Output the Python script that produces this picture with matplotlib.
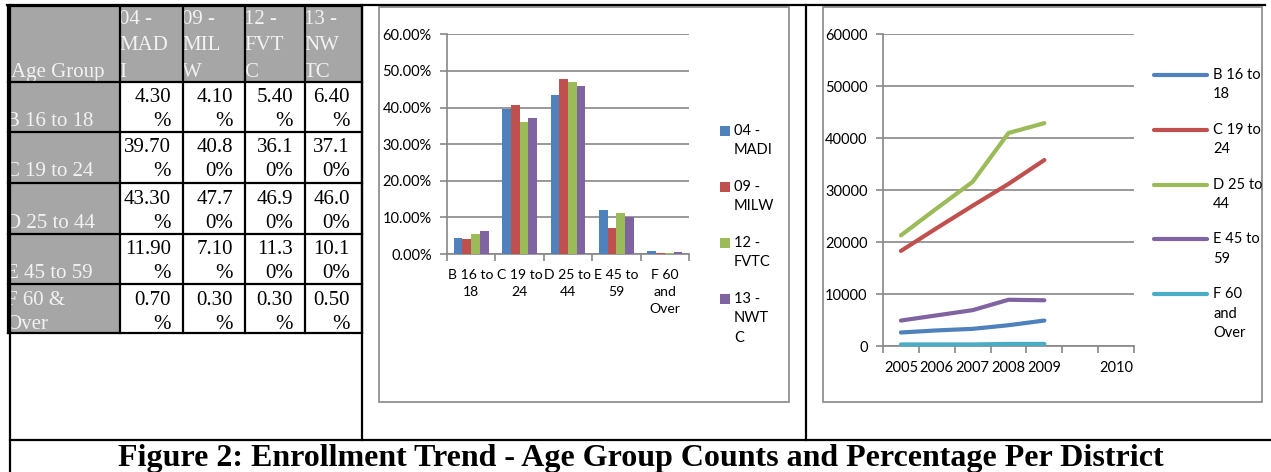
#!/usr/bin/env python3
"""
Enrollment trend figure: district percentage table, percentage bar chart
and yearly age group counts, laid out like the report page.
"""

import numpy as np
import matplotlib
matplotlib.use('Agg')
import matplotlib.pyplot as plt
import matplotlib.patches as patches
from matplotlib.ticker import FuncFormatter

# ---- data ----
AGE_GROUPS = ['B 16 to 18', 'C 19 to 24', 'D 25 to 44', 'E 45 to 59', 'F 60 and Over']
DISTRICTS = ['04 - MADI', '09 - MILW', '12 - FVTC', '13 - NWTC']

PCT_MADI = [4.3, 39.7, 43.3, 11.9, 0.7]
PCT_MILW = [4.1, 40.8, 47.7, 7.1, 0.3]
PCT_FVTC = [5.4, 36.1, 46.9, 11.3, 0.3]
PCT_NWTC = [6.4, 37.1, 46.0, 10.1, 0.5]

YEARS = ['2005', '2006', '2007', '2008', '2009', '', '2010']
COUNT_B = [2600, 3000, 3300, 4000, 4900]
COUNT_C = [18300, 22700, 27000, 31200, 35800]
COUNT_D = [21300, 26500, 31600, 41000, 42900]
COUNT_E = [4900, 5900, 6900, 8900, 8800]
COUNT_F = [300, 300, 300, 400, 400]

# labels as they wrap on the page
TABLE_HEADERS = ['04 -\nMAD\nI', '09 -\nMIL\nW', '12 -\nFVT\nC', '13 -\nNW\nTC']
TABLE_ROW_LABELS = ['\nB 16 to 18', '\nC 19 to 24', '\nD 25 to 44', '\nE 45 to 59', 'F 60 &\nOver']
BAR_CATEGORY_LABELS = ['B 16 to\n18', 'C 19 to\n24', 'D 25 to\n44', 'E 45 to\n59', 'F 60\nand\nOver']
BAR_LEGEND_LABELS = ['04 -\nMADI', '09 -\nMILW', '12 -\nFVTC', '13 -\nNWT\nC']
LINE_LEGEND_LABELS = ['B 16 to\n18', 'C 19 to\n24', 'D 25 to\n44', 'E 45 to\n59', 'F 60\nand\nOver']

CAPTION = 'Figure 2: Enrollment Trend - Age Group Counts and Percentage Per District'

# Office 2007 palette
BLUE = '#4F81BD'
RED = '#C0504D'
GREEN = '#9BBB59'
PURPLE = '#8064A2'
CYAN = '#4BACC6'
AXIS_GRAY = '#878787'
CELL_GRAY = '#A6A6A6'

SANS = 'Lato'
SERIF = 'Liberation Serif'
W, H = 1271, 472


def px_axes(fig, x0, y0, x1, y1):
    """Axes placed by page pixel box (y measured from the top)"""
    return fig.add_axes([x0 / W, 1 - y1 / H, (x1 - x0) / W, (y1 - y0) / H], zorder=2)


def cell_text(bg, x, y, s, clip, **kw):
    t = bg.text(x, y, s, va='center', family=SERIF, fontsize=15, **kw)
    t.set_clip_path(clip)
    return t


def draw_table(bg):
    col_x = [7.5, 120, 183, 245, 305, 362]
    row_y = [6, 81.5, 131.5, 182.5, 233.5, 284, 333]

    # gray header row and first column
    bg.add_patch(patches.Rectangle((11, 7), 350, row_y[1] - 7, facecolor=CELL_GRAY,
                                   edgecolor='none', zorder=1))
    bg.add_patch(patches.Rectangle((11, row_y[1]), col_x[1] - 11, row_y[-1] - row_y[1],
                                   facecolor=CELL_GRAY, edgecolor='none', zorder=1))

    def clip_box(c, r):
        rect = patches.Rectangle((col_x[c] + 1, row_y[r]), col_x[c + 1] - col_x[c] - 1,
                                 row_y[r + 1] - row_y[r], transform=bg.transData)
        return rect

    # header row
    cell_text(bg, 11, 72.5, 'Age Group', clip_box(0, 0), color='#F2F2F2', zorder=3)
    for c, head in enumerate(TABLE_HEADERS):
        for k, line in enumerate(head.split('\n')):
            cell_text(bg, col_x[c + 1] - 1, 19.5 + k * 26.5, line, clip_box(c + 1, 0),
                      color='#F2F2F2', zorder=3)

    series = [PCT_MADI, PCT_MILW, PCT_FVTC, PCT_NWTC]
    for r, label in enumerate(TABLE_ROW_LABELS):
        top = row_y[r + 1]
        for k, line in enumerate(label.split('\n')):
            cell_text(bg, 6, top + 16.5 + k * 24, line, clip_box(0, r + 1),
                      color='#F2F2F2', zorder=3)
        for c, vals in enumerate(series):
            s = f"{vals[r]:.2f}%"
            cut = len(s) - 1 if c == 0 else 4
            parts = [s[:cut], s[cut:]]
            for k, line in enumerate(parts):
                cell_text(bg, col_x[c + 2] - 12, top + 16.5 + k * 24, line,
                          clip_box(c + 1, r + 1), ha='right', color='black', zorder=3)

    for x in col_x:
        bg.plot([x, x], [row_y[0], row_y[-1]], color='black', lw=1.6, zorder=4,
                solid_capstyle='projecting')
    for y in row_y:
        bg.plot([col_x[0], col_x[-1]], [y, y], color='black', lw=1.6, zorder=4,
                solid_capstyle='projecting')


def draw_bar_chart(fig, bg):
    bg.add_patch(patches.Rectangle((378.5, 7), 410, 395, facecolor='white',
                                   edgecolor=AXIS_GRAY, lw=1.2, zorder=1))
    ax = px_axes(fig, 447, 34.3, 689, 254)
    ax.set_facecolor('none')

    series = [PCT_MADI, PCT_MILW, PCT_FVTC, PCT_NWTC]
    colors = [BLUE, RED, GREEN, PURPLE]
    x = np.arange(len(AGE_GROUPS))
    width = 0.18
    for i, (vals, color) in enumerate(zip(series, colors)):
        ax.bar(x + (i - 1.5) * width, [v / 100 for v in vals], width, color=color,
               label=DISTRICTS[i], zorder=3)

    ax.set_xlim(-0.5, len(AGE_GROUPS) - 0.5)
    ax.set_ylim(0, 0.6)
    ax.set_yticks(np.arange(0, 0.61, 0.1))
    ax.yaxis.set_major_formatter(FuncFormatter(lambda v, p: f"{v * 100:.2f}%"))
    ax.set_xticks(x)
    ax.set_xticklabels(BAR_CATEGORY_LABELS)
    ax.set_xticks(np.arange(-0.5, len(AGE_GROUPS)), minor=True)
    style_axes(ax, xsize=10.1)

    # legend, drawn the way Excel wraps it
    for i, (label, color) in enumerate(zip(BAR_LEGEND_LABELS, colors)):
        y = 131 + i * 56
        bg.add_patch(patches.Rectangle((720, y - 5), 10, 10, facecolor=color,
                                       edgecolor='none', zorder=3))
        for k, line in enumerate(label.split('\n')):
            bg.text(734, y + k * 19.5, line, va='center', ha='left', family=SANS,
                    fontsize=10.5, zorder=3)


def draw_line_chart(fig, bg):
    bg.add_patch(patches.Rectangle((823, 7), 439, 395, facecolor='white',
                                   edgecolor=AXIS_GRAY, lw=1.2, zorder=1))
    ax = px_axes(fig, 883, 34.3, 1134, 346)
    ax.set_facecolor('none')

    series = [COUNT_B, COUNT_C, COUNT_D, COUNT_E, COUNT_F]
    colors = [BLUE, RED, GREEN, PURPLE, CYAN]
    for vals, color, name in zip(series, colors, AGE_GROUPS):
        ax.plot(np.arange(len(vals)), vals, color=color, lw=3.0, label=name,
                solid_capstyle='round', solid_joinstyle='round', zorder=3, clip_on=False)

    ax.set_xlim(-0.5, len(YEARS) - 0.5)
    ax.set_ylim(0, 60000)
    ax.set_yticks(np.arange(0, 60001, 10000))
    ax.set_xticks(np.arange(len(YEARS)))
    ax.set_xticklabels(YEARS)
    ax.set_xticks(np.arange(-0.5, len(YEARS)), minor=True)
    style_axes(ax)

    for i, (label, color) in enumerate(zip(LINE_LEGEND_LABELS, colors)):
        y = 75 + i * 54.8
        bg.plot([1154, 1207], [y, y], color=color, lw=3.0, solid_capstyle='round', zorder=3)
        for k, line in enumerate(label.split('\n')):
            bg.text(1213, y + k * 19.5, line, va='center', ha='left', family=SANS,
                    fontsize=10.5, zorder=3)


def style_axes(ax, xsize=10.5):
    for side in ['top', 'right']:
        ax.spines[side].set_visible(False)
    for side in ['left', 'bottom']:
        ax.spines[side].set_color(AXIS_GRAY)
        ax.spines[side].set_linewidth(1.2)
    ax.yaxis.grid(True, color=AXIS_GRAY, lw=1.2)
    ax.set_axisbelow(True)
    ax.tick_params(axis='y', length=5, color=AXIS_GRAY, width=1.2, pad=6,
                   labelsize=10.5, labelfontfamily=SANS)
    ax.tick_params(axis='x', which='major', length=0, pad=11, labelsize=xsize,
                   labelfontfamily=SANS)
    ax.tick_params(axis='x', which='minor', length=5, color=AXIS_GRAY, width=1.2)
    for t in ax.get_xticklabels():
        t.set_linespacing(1.5)


def main():
    fig = plt.figure(figsize=(W / 100, H / 100), dpi=100, facecolor='white')
    bg = fig.add_axes([0, 0, 1, 1], zorder=0)
    bg.set_xlim(0, W)
    bg.set_ylim(H, 0)
    bg.axis('off')

    draw_bar_chart(fig, bg)
    draw_line_chart(fig, bg)
    draw_table(bg)

    # page frame
    frame = dict(color='black', lw=1.6, zorder=4)
    bg.plot([7, 1265], [5, 5], **frame)
    bg.plot([10, 10], [5, H], **frame)
    bg.plot([361.5, 361.5], [5, 440], **frame)
    bg.plot([806, 806], [5, 440], **frame)
    bg.plot([10, W], [440, 440], **frame)

    bg.text(641, 466, CAPTION, ha='center', va='baseline', family=SERIF,
            fontsize=23.0, fontweight='bold', zorder=3)

    fig.savefig('out.png', dpi=100, facecolor='white')
    plt.close(fig)


if __name__ == '__main__':
    main()
